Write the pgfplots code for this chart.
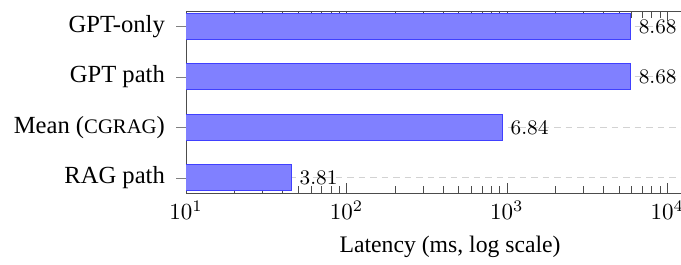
\documentclass[border=0pt]{standalone}
\usepackage{fontspec}
\setmainfont{Liberation Serif}
\usepackage{pgfplots}
\pgfplotsset{compat=1.18}
\begin{document}
\begin{tikzpicture}
\begin{axis}[
  scale only axis,
  width=229.6pt, height=79pt,
  xbar, bar width=11.3pt,
  xmode=log, log basis x=10,
  xmin=10, xmax=19600,
  ymin=-0.3, ymax=3.3,
  ytick={0,1,2,3},
  yticklabels={RAG path, Mean ({\small CGRAG}), GPT path, GPT-only},
  y tick style={gray, xshift=-0.15cm},
  yticklabel style={xshift=-0.2cm, font=\fontsize{10.7}{12}\selectfont},
  ytick pos=left,
  axis line style={black!70},
  x tick style={black!70},
  tick align=inside,
  ymajorgrids,
  major grid style={densely dashed, gray!35},
  xlabel={Latency (ms, log scale)},
  xlabel style={font=\fontsize{10.3}{12}\selectfont},
  nodes near coords,
  point meta=explicit,
  every node near coord/.append style={anchor=west, font=\small, black, inner sep=3.5pt},
]
\addplot[draw=blue!75, fill=blue!50] table[x=x, y=y, meta=m] {
x y m
45.2 0 3.81
934 1 6.84
5884 2 8.68
5884 3 8.68
};
\end{axis}
\pgfresetboundingbox
\path ([shift={(-80.9pt,-31.3pt)}]current axis.south west) rectangle ([shift={(215.2pt,83.9pt)}]current axis.south west);
\end{tikzpicture}
\end{document}
